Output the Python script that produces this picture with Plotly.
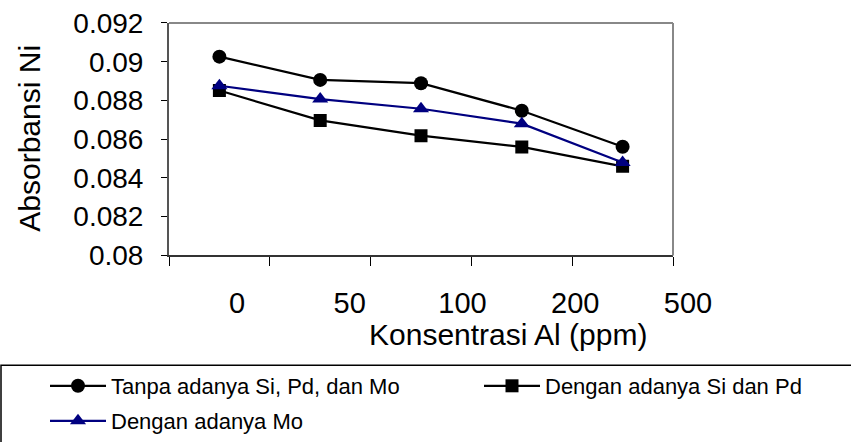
import plotly.graph_objects as go

categories = ["0", "50", "100", "200", "500"]
tanpa = [0.09026, 0.08906, 0.08889, 0.08747, 0.08561]
si_pd = [0.08851, 0.08697, 0.08618, 0.08560, 0.08460]
mo = [0.08876, 0.08807, 0.08757, 0.08680, 0.08480]
y_tickvals = [0.08, 0.082, 0.084, 0.086, 0.088, 0.09, 0.092]
y_ticktext = ["0.08", "0.082", "0.084", "0.086", "0.088", "0.09", "0.092"]

W, H = 851, 442
FONT = "Liberation Sans, Arial, sans-serif"
LEG_FONT = "Liberation Sans, Arial, sans-serif"

fig = go.Figure()
fig.add_trace(go.Scatter(x=categories, y=tanpa, name="Tanpa adanya Si, Pd, dan Mo",
                         mode="lines+markers", line=dict(color="black", width=2.2),
                         marker=dict(symbol="circle", size=14, color="black"),
                         legend="legend"))
fig.add_trace(go.Scatter(x=categories, y=si_pd, name="Dengan adanya Si dan Pd",
                         mode="lines+markers", line=dict(color="black", width=2.2),
                         marker=dict(symbol="square", size=13, color="black"),
                         legend="legend2"))
fig.add_trace(go.Scatter(x=categories, y=mo, name="Dengan adanya Mo",
                         mode="lines+markers", line=dict(color="#000080", width=2.2),
                         marker=dict(symbol="triangle-up", size=14, color="#000080"),
                         legend="legend3"))
# label axis (carries the category tick labels)
fig.add_trace(go.Scatter(x=categories, y=[None] * len(categories), xaxis="x2", yaxis="y",
                         showlegend=False, hoverinfo="skip", mode="markers"))

px0, px1, py0, py1 = 169, 673, 23, 256
lx0, lx1 = 180.6, 744.4

leg_common = dict(orientation="v", xanchor="left", yanchor="middle", itemwidth=56,
                  font=dict(family=LEG_FONT, size=22, color="black"),
                  bgcolor="rgba(0,0,0,0)", borderwidth=0)

fig.update_layout(
    width=W, height=H, autosize=False,
    margin=dict(l=0, r=0, t=0, b=0, pad=0),
    paper_bgcolor="white", plot_bgcolor="rgba(0,0,0,0)",
    font=dict(family=FONT, size=28, color="black"),
    showlegend=True,
    xaxis=dict(type="category", categoryorder="array", categoryarray=categories,
               domain=[px0 / W, px1 / W], range=[-0.5, 4.5],
               showticklabels=False, tickson="boundaries", ticks="outside",
               ticklen=9, tickcolor="black", tickwidth=1,
               showline=True, linecolor="#333333", linewidth=2,
               showgrid=False, zeroline=False, automargin=False),
    xaxis2=dict(type="category", categoryorder="array", categoryarray=categories,
                domain=[lx0 / W, lx1 / W], range=[-0.5, 4.5],
                anchor="free", position=1 - 284 / H,
                showline=False, ticks="", showgrid=False, zeroline=False,
                tickfont=dict(size=29), automargin=False),
    yaxis=dict(domain=[1 - py1 / H, 1 - py0 / H], range=[0.08, 0.092],
               tickvals=y_tickvals, ticktext=y_ticktext,
               tickfont=dict(size=28),
               ticks="outside", ticklen=6, tickcolor="black", tickwidth=1,
               ticklabelstandoff=12,
               showline=True, linecolor="#555555", linewidth=2,
               showgrid=False, zeroline=False, automargin=False),
    legend=dict(x=45 / W, y=1 - 386 / H, **leg_common),
    legend2=dict(x=479 / W, y=1 - 386 / H, **leg_common),
    legend3=dict(x=45 / W, y=1 - 422 / H, **leg_common),
    shapes=[
        dict(type="line", xref="paper", yref="paper", x0=px0 / W, x1=px1 / W,
             y0=1 - py0 / H, y1=1 - py0 / H, line=dict(color="#888888", width=2)),
        dict(type="line", xref="paper", yref="paper", x0=px1 / W, x1=px1 / W,
             y0=1 - py0 / H, y1=1 - py1 / H, line=dict(color="#888888", width=2)),
        dict(type="rect", xref="paper", yref="paper", x0=1 / W, x1=1.02,
             y0=-0.05, y1=1 - 366 / H, line=dict(color="black", width=1.5)),
    ],
    annotations=[
        dict(text="Absorbansi Ni", xref="paper", yref="paper", x=30 / W, y=1 - 139 / H,
             textangle=-90, showarrow=False, xanchor="center", yanchor="middle",
             font=dict(size=30)),
        dict(text="Konsentrasi Al (ppm)", xref="paper", yref="paper", x=508 / W, y=1 - 335 / H,
             showarrow=False, xanchor="center", yanchor="middle", font=dict(size=30)),
    ],
)

fig.write_html("out.html")
